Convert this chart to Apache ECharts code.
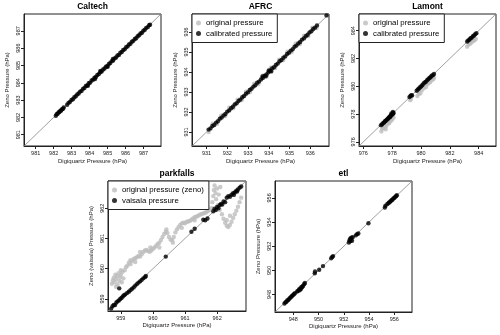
<!DOCTYPE html>
<html>
  <head>
    <meta charset="utf-8">
    <script src="https://cdn.jsdelivr.net/npm/echarts@6/dist/echarts.min.js"></script>
    <style>
      body { margin: 0; background: #fff; }
      #chart { width: 500px; height: 335px; }
    </style>
  </head>
  <body>
    <div id="chart"></div>
    <script>
      // tick labels per panel
      const caltechTicks = [981, 982, 983, 984, 985, 986, 987];
      const afrcTicks = [931, 932, 933, 934, 935, 936];
      const lamontTicks = [976, 978, 980, 982, 984];
      const parkTicks = [959, 960, 961, 962];
      const etlTicks = [948, 950, 952, 954, 956];

      // Caltech: calibrated pressure [digiquartz, zeno]
      const caltechCal = [
        [982.12,982.10],[982.17,982.18],[982.22,982.21],[982.27,982.29],[982.32,982.31],[982.37,982.39],
        [982.42,982.40],[982.47,982.48],[982.52,982.50],[982.56,982.57],
        [982.75,982.73],[982.83,982.84],[982.91,982.90],[982.99,983.01],[983.07,983.05],[983.15,983.16],
        [983.23,983.22],[983.31,983.33],[983.39,983.38],[983.47,983.49],[983.55,983.53],[983.63,983.65],
        [983.71,983.70],[983.79,983.81],[983.87,983.85],[983.95,983.97],[984.03,984.01],[984.11,984.13],
        [984.19,984.18],[984.27,984.29],[984.35,984.33],[984.43,984.45],[984.51,984.50],[984.59,984.61],
        [984.67,984.65],[984.75,984.77],[984.83,984.82],[984.91,984.93],[984.99,984.97],[985.07,985.09],
        [985.15,985.14],[985.23,985.25],[985.31,985.29],[985.39,985.41],[985.47,985.46],[985.55,985.57],
        [985.63,985.61],[985.71,985.73],[985.79,985.78],[985.87,985.89],[985.95,985.93],[986.03,986.05],
        [986.11,986.10],[986.19,986.21],[986.27,986.25],[986.35,986.37],[986.43,986.42],[986.51,986.53],
        [986.59,986.57],[986.67,986.69],[986.75,986.74],[986.83,986.85],[986.91,986.89],[986.99,987.01],
        [987.07,987.06],[987.15,987.17],[987.23,987.21],[987.31,987.33],[987.36,987.35],
        [984.30,984.22],[984.60,984.68],[985.00,984.92],[985.30,985.38],[983.90,983.83]
      ];

      // AFRC
      const afrcOrig = [
        [931.10,931.00],[931.30,931.42],[931.50,931.40],[931.70,931.82],[931.90,931.80],[932.10,932.22],
        [932.30,932.20],[932.50,932.62],[932.70,932.60],[932.90,933.02],[933.10,933.00],[933.30,933.42],
        [933.50,933.40],[933.70,933.82],[933.90,933.80],[934.10,934.22],[934.30,934.20],[934.50,934.62],
        [934.70,934.60],[934.90,935.02],[935.10,935.00],[935.30,935.42],[935.50,935.40],[935.70,935.82],
        [935.90,935.80],[936.10,936.22],[936.30,936.20]
      ];
      const afrcCal = [
        [931.10,931.12],[931.19,931.18],[931.28,931.30],[931.37,931.35],[931.46,931.47],[931.55,931.54],
        [931.64,931.66],[931.73,931.72],[931.82,931.83],[931.91,931.90],[932.00,932.02],[932.09,932.08],
        [932.18,932.19],[932.27,932.26],[932.36,932.38],[932.45,932.44],[932.54,932.55],[932.63,932.62],
        [932.72,932.74],[932.81,932.80],[932.90,932.91],[932.99,932.98],[933.08,933.10],[933.17,933.16],
        [933.26,933.27],[933.35,933.34],[933.44,933.46],[933.53,933.52],[933.62,933.63],[933.71,933.70],
        [933.80,933.82],[933.89,933.88],[933.98,933.99],[934.07,934.06],[934.16,934.18],[934.25,934.24],
        [934.34,934.35],[934.43,934.42],[934.52,934.54],[934.61,934.60],[934.70,934.71],[934.79,934.78],
        [934.88,934.90],[934.97,934.96],[935.06,935.07],[935.15,935.14],[935.24,935.26],[935.33,935.32],
        [935.42,935.43],[935.51,935.50],[935.60,935.62],[935.69,935.68],[935.78,935.79],[935.87,935.86],
        [935.96,935.98],[936.05,936.04],[936.14,936.15],[936.23,936.22],[936.32,936.33],
        [933.85,933.78],[934.00,934.08],[934.12,934.03],[933.70,933.78],[936.78,936.83]
      ];

      // Lamont
      const lamontOrig = [
        [977.25,976.75],[977.30,976.95],[977.40,977.00],[977.50,977.05],[977.60,977.15],[977.70,977.30],
        [977.80,977.35],[977.90,977.50],[978.00,977.60],[978.10,977.75],[977.55,976.90],[977.75,977.45],
        [977.35,977.10],
        [979.25,979.00],[979.30,979.10],
        [979.75,979.30],[979.85,979.45],[979.95,979.50],[980.05,979.70],[980.20,979.85],[980.35,979.95],
        [980.45,980.15],[980.55,980.25],[980.65,980.30],[980.75,980.45],[980.85,980.50],[980.90,980.62],
        [983.20,982.85],[983.30,983.00],[983.40,983.05],[983.50,983.15],[983.60,983.25],[983.70,983.30],
        [983.80,983.40]
      ];
      const lamontCal = [
        [977.22,977.20],[977.30,977.27],[977.38,977.35],[977.45,977.40],[977.50,977.48],[977.56,977.52],
        [977.62,977.60],[977.68,977.63],[977.73,977.70],[977.78,977.75],[977.83,977.80],[977.88,977.86],
        [977.93,977.90],[977.97,977.95],[978.02,977.98],[978.06,978.04],[978.10,978.08],[977.95,978.05],
        [978.05,978.15],[977.85,977.78],
        [979.20,979.22],[979.27,979.30],[979.33,979.35],[979.38,979.34],
        [979.70,979.68],[979.78,979.77],[979.86,979.84],[979.94,979.93],[980.02,980.00],[980.10,980.09],
        [980.18,980.20],[980.26,980.27],[980.34,980.33],[980.42,980.44],[980.50,980.50],[980.58,980.60],
        [980.66,980.65],[980.74,980.76],[980.82,980.80],[980.90,980.88],
        [983.20,983.22],[983.28,983.30],[983.36,983.37],[983.44,983.45],[983.52,983.50],[983.60,983.60],
        [983.68,983.66],[983.76,983.75],[983.84,983.82]
      ];

      // parkfalls
      const parkOrig = [
        [958.72,959.50],[958.75,959.62],[958.78,959.70],[958.80,959.55],[958.83,959.80],[958.85,959.65],
        [958.88,959.75],[958.90,959.48],[958.93,959.85],[958.95,959.60],[958.98,959.72],[959.00,959.80],
        [959.03,959.55],[959.05,959.90],[959.08,959.68],
        [959.12,959.95],[959.16,960.05],[959.20,960.10],[959.25,960.20],[959.30,960.28],[959.35,960.25],
        [959.40,960.32],[959.45,960.35],[959.50,960.38],[959.55,960.42],[959.60,960.40],[959.65,960.48],
        [959.70,960.55],[959.75,960.60],[959.80,960.62],[959.85,960.58],[959.90,960.56],[959.95,960.60],
        [960.00,960.66],[960.05,960.70],[960.10,960.76],[960.15,960.82],[960.20,960.86],[960.25,960.95],
        [960.30,961.05],[960.35,961.15],[960.40,961.22],[960.45,961.18],[960.50,961.05],[960.55,960.96],
        [960.60,960.95],[960.65,961.05],[960.70,961.20],[960.75,961.30],[960.80,961.38],[960.85,961.45],
        [960.90,961.50],[960.95,961.52],[961.00,961.50],[961.05,961.55],[961.10,961.56],[961.15,961.58],
        [961.20,961.62],[961.25,961.66],[961.30,961.70],[961.35,961.72],[961.40,961.74],[961.45,961.78],
        [961.50,961.80],[961.55,961.82],[961.60,961.84],[961.65,961.86],[961.70,961.90],[961.75,961.93],
        [959.30,960.15],[959.60,960.55],[960.20,960.70],[960.90,961.35],[961.30,961.60],
        [958.85,959.40],[959.00,959.95],[959.45,960.22],[959.92,960.70],[960.42,961.30],[960.62,960.86],
        [961.82,962.00],[961.85,962.20],[961.88,962.40],[961.90,962.60],[961.92,962.75],[961.95,962.50],
        [961.97,962.30],[962.00,962.65],[962.02,962.10],[962.05,962.45],[962.08,961.95],[962.10,962.70],
        [962.15,961.80],[962.20,961.65],[962.25,961.52],[962.30,961.42],[962.35,961.38],[962.40,961.45],
        [962.45,961.55],[962.50,961.68],[962.55,961.80],[962.60,961.92],[962.65,962.05],[962.70,962.20],
        [962.75,962.35],[962.30,961.60],[962.40,961.75]
      ];
      const parkVais = [
        [958.70,958.68],[958.74,958.76],[958.78,958.80],[958.82,958.80],[958.86,958.88],[958.90,958.92],
        [958.94,958.95],[958.98,959.00],[959.02,959.03],[959.06,959.08],[959.10,959.12],[959.14,959.15],
        [959.20,959.20],[959.25,959.24],[959.30,959.29],[959.35,959.34],[959.40,959.38],[959.45,959.44],
        [959.50,959.49],[959.55,959.54],[959.60,959.58],[959.65,959.63],[959.70,959.68],[959.75,959.72],
        [959.78,959.76],[958.95,959.35],[960.40,960.40],
        [961.20,961.22],[961.30,961.32],[961.57,961.62],[961.63,961.60],[961.70,961.66],[961.88,961.90],
        [961.92,961.98],[961.96,961.94],[962.00,962.04],[962.04,962.00],[962.08,962.10],[962.12,962.14],
        [962.16,962.12],[962.20,962.22],[962.25,962.20],[962.30,962.35],[962.35,962.40],[962.40,962.38],
        [962.45,962.45],[962.50,962.50],[962.55,962.52],[962.60,962.58],[962.65,962.62],[962.70,962.68],
        [962.75,962.72],[962.62,962.55],[962.52,962.44]
      ];

      // etl
      const etlCal = [
        [947.30,947.25],[947.38,947.35],[947.45,947.40],[947.52,947.50],[947.60,947.55],[947.68,947.65],
        [947.75,947.72],[947.82,947.80],[947.90,947.88],[947.97,947.95],[948.05,948.02],[948.12,948.10],
        [948.30,948.25],[948.38,948.30],[948.45,948.42],[948.50,948.35],[948.55,948.50],[948.60,948.45],
        [948.65,948.62],[948.70,948.60],[948.78,948.72],[948.85,948.85],[948.92,948.95],
        [949.70,949.75],[949.72,949.90],[950.05,950.05],[950.35,950.35],
        [951.00,951.00],[951.08,951.10],[951.15,951.18],
        [952.40,952.30],[952.45,952.50],[952.50,952.40],[952.52,952.65],[952.55,952.55],[952.60,952.70],
        [952.65,952.45],[952.70,952.75],[952.95,952.90],[953.05,953.00],[953.15,953.05],[953.95,953.90],
        [955.25,955.20],[955.30,955.35],[955.45,955.50],[955.55,955.58],[955.62,955.65],[955.70,955.72],
        [955.78,955.80],[955.85,955.85],[955.92,955.95],[956.00,956.00],[956.08,956.10],[956.15,956.15],
        [956.20,956.22]
      ];

      const FONT = '"Liberation Sans", Arial, sans-serif';
      const GRAY = '#bdbdbd';

      const panels = [
        { title: 'Caltech', left: 24, top: 14, w: 137, h: 132, range: [980.35, 987.97], ticks: caltechTicks,
          yName: 'Zeno Pressure (hPa)', gray: null, black: caltechCal, names: ['original pressure', 'calibrated pressure'], legend: null },
        { title: 'AFRC', left: 192, top: 14, w: 137, h: 132, range: [930.3, 936.9], ticks: afrcTicks,
          yName: 'Zeno Pressure (hPa)', gray: afrcOrig, black: afrcCal, names: ['original pressure', 'calibrated pressure'], legend: true },
        { title: 'Lamont', left: 359, top: 14, w: 137, h: 132, range: [975.7, 985.2], ticks: lamontTicks,
          yName: 'Zeno Pressure (hPa)', gray: lamontOrig, black: lamontCal, names: ['original pressure', 'calibrated pressure'], legend: true },
        { title: 'parkfalls', left: 108, top: 181, w: 138, h: 130, range: [958.6, 962.9], ticks: parkTicks,
          yName: 'Zeno (vaisala) Pressure (hPa)', gray: parkOrig, black: parkVais, names: ['original pressure (zeno)', 'vaisala pressure'], legend: true },
        { title: 'etl', left: 275, top: 181, w: 137, h: 131, range: [946.55, 957.4], ticks: etlTicks,
          yName: 'Zeno Pressure (hPa)', gray: null, black: etlCal, names: ['original pressure', 'calibrated pressure'], legend: null }
      ];

      const grid = [], xAxis = [], yAxis = [], series = [], title = [], legend = [];

      panels.forEach((p, i) => {
        const bottomRow = p.top > 100;
        grid.push({ left: p.left, top: p.top, width: p.w, height: p.h,
          show: true, borderColor: '#222', borderWidth: 1 });
        title.push({ text: p.title, left: p.left + p.w / 2, top: p.top - 12, textAlign: 'center', padding: 0,
          textStyle: { fontSize: 8.5, fontWeight: 'bold', color: '#000', fontFamily: FONT } });

        const common = {
          type: 'value', gridIndex: i, min: p.range[0], max: p.range[1],
          nameLocation: 'middle',
          nameTextStyle: { fontSize: 6, color: '#222', fontFamily: FONT },
          axisLine: { show: true, lineStyle: { color: '#222', width: 1 } },
          splitLine: { show: false }
        };
        xAxis.push(Object.assign({}, common, {
          name: 'Digiquartz Pressure (hPa)', nameGap: bottomRow ? 10.5 : 12.5,
          axisTick: { show: true, length: 3, customValues: p.ticks, lineStyle: { color: '#222' } },
          axisLabel: { customValues: p.ticks, fontSize: 5.5, color: '#222', margin: 4, fontFamily: FONT }
        }));
        yAxis.push(Object.assign({}, common, {
          name: p.yName, nameGap: 14,
          axisTick: { show: true, length: 3, customValues: p.ticks, lineStyle: { color: '#222' } },
          axisLabel: { customValues: p.ticks, fontSize: 5.5, color: '#222', margin: 3, rotate: 90, fontFamily: FONT }
        }));

        // 1:1 reference line
        series.push({ type: 'line', xAxisIndex: i, yAxisIndex: i, silent: true, symbol: 'none',
          data: [[p.range[0], p.range[0]], [p.range[1], p.range[1]]],
          lineStyle: { color: '#888', width: 0.8 }, z: 1 });
        if (p.gray) {
          series.push({ type: 'scatter', name: p.names[0], xAxisIndex: i, yAxisIndex: i, data: p.gray,
            symbolSize: 4.4, itemStyle: { color: GRAY }, z: 2 });
        }
        series.push({ type: 'scatter', name: p.names[1], xAxisIndex: i, yAxisIndex: i, data: p.black,
          symbolSize: 4.4, itemStyle: { color: '#000' }, z: 3 });

        if (p.legend) {
          legend.push({ left: p.left, top: p.top, orient: 'vertical', data: p.names,
            icon: 'circle', itemWidth: 5, itemHeight: 5, itemGap: 2.5, selectedMode: false,
            padding: [5, 5, 5, 4], borderColor: '#222', borderWidth: 1, backgroundColor: '#fff',
            textStyle: { fontSize: 7.8, color: '#000', fontFamily: FONT } });
        }
      });

      const chart = echarts.init(document.getElementById('chart'), null, { renderer: 'canvas' });
      chart.setOption({ animation: false, title, legend, grid, xAxis, yAxis, series });
    </script>
  </body>
</html>
